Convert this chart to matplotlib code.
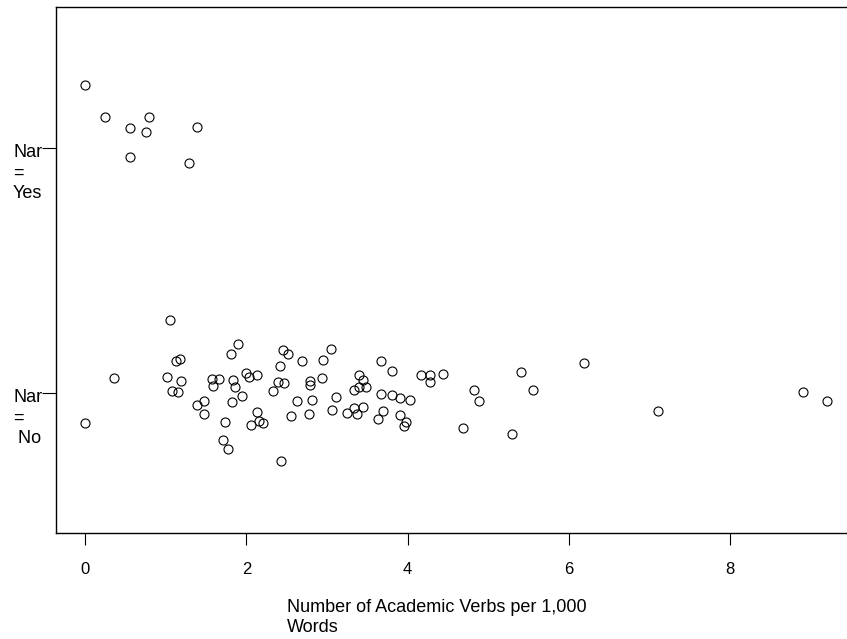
import matplotlib.pyplot as plt
import numpy as np

plt.rcParams['font.family'] = ['Liberation Sans', 'DejaVu Sans']

categories = ['Nar\n=\n No', 'Nar\n=\nYes']
cat_pos = [0, 1]

# Nar = Yes: verbs per 1,000 words and vertical jitter
yes_x = [0.00, 0.24, 0.55, 0.79, 0.75, 1.39, 0.55, 1.29]
yes_jit = [0.257, 0.128, 0.082, 0.129, 0.067, 0.087, -0.037, -0.062]

# Nar = No
no_x = [1.05, 0.36, 0.00, 1.13, 1.18, 1.02, 1.19, 1.07, 1.15, 1.90,
        1.81, 1.57, 1.66, 1.58, 1.83, 1.86, 1.94, 1.82, 1.47, 1.39,
        1.47, 1.73, 1.71, 1.77, 1.99, 2.03, 2.13, 2.13, 2.06, 2.16,
        2.20, 2.45, 2.52, 2.42, 2.69, 2.95, 3.05, 2.39, 2.46, 2.33,
        2.79, 2.79, 2.94, 2.63, 2.81, 3.11, 2.55, 2.77, 3.06, 2.43,
        3.67, 3.81, 3.39, 3.45, 3.48, 3.39, 3.33, 3.67, 3.81, 3.91,
        4.03, 3.45, 3.33, 3.25, 3.37, 3.69, 3.63, 3.91, 3.98, 3.95,
        4.17, 4.28, 4.28, 4.44, 4.82, 4.89, 4.68, 5.41, 5.55, 5.30,
        6.19, 7.11, 8.91, 9.20]
no_jit = [0.297, 0.061, -0.121, 0.132, 0.140, 0.067, 0.049, 0.008, 0.005, 0.201,
          0.160, 0.058, 0.058, 0.029, 0.053, 0.023, -0.011, -0.035, -0.031, -0.050,
          -0.084, -0.116, -0.192, -0.229, 0.082, 0.067, 0.075, -0.079, -0.129, -0.114,
          -0.120, 0.178, 0.159, 0.111, 0.131, 0.137, 0.182, 0.044, 0.042, 0.010,
          0.050, 0.035, 0.063, -0.034, -0.030, -0.014, -0.094, -0.087, -0.067, -0.276,
          0.133, 0.090, 0.073, 0.053, 0.026, 0.023, 0.012, -0.003, -0.008, -0.020,
          -0.029, -0.058, -0.060, -0.083, -0.086, -0.075, -0.106, -0.091, -0.118, -0.135,
          0.072, 0.072, 0.044, 0.079, 0.011, -0.033, -0.143, 0.086, 0.014, -0.166,
          0.124, -0.075, 0.005, -0.034]

xticks = [0, 2, 4, 6, 8]
xlabel = 'Number of Academic Verbs per 1,000\nWords'


fig = plt.figure(figsize=(8.47, 6.39), dpi=100)
ax = fig.add_axes([56 / 847, 1 - 533 / 639, 1 - 56 / 847, (533 - 7) / 639])

mk = dict(marker='o', linestyle='none', markersize=6.5,
          markerfacecolor='none', markeredgecolor='black', markeredgewidth=0.8)
ax.plot(no_x, np.array(no_jit) + cat_pos[0], **mk)
ax.plot(yes_x, np.array(yes_jit) + cat_pos[1], **mk)

ax.set_xlim(-0.363, 9.45)
ax.set_ylim(-0.571, 1.576)

ax.spines['right'].set_visible(False)
for s in ['left', 'top', 'bottom']:
    ax.spines[s].set_linewidth(1.0)

ax.set_xticks(xticks)
ax.set_xticklabels([str(t) for t in xticks], fontsize=12)
ax.tick_params(axis='x', direction='out', length=8.6, width=0.8, pad=12)

ax.set_yticks(cat_pos)
ax.set_yticklabels([])
ax.tick_params(axis='y', direction='out', length=10, width=0.8)
for pos, lab in zip(cat_pos, categories):
    ax.annotate(lab, xy=(0, pos), xycoords=('axes fraction', 'data'),
                xytext=(-43, 4), textcoords='offset pixels',
                ha='left', va='top', fontsize=13, linespacing=1.25)

fig.text(287 / 847, 1 - 599 / 639, xlabel, ha='left', va='top',
         fontsize=13, linespacing=1.25)

fig.savefig('out.png', dpi=100)
